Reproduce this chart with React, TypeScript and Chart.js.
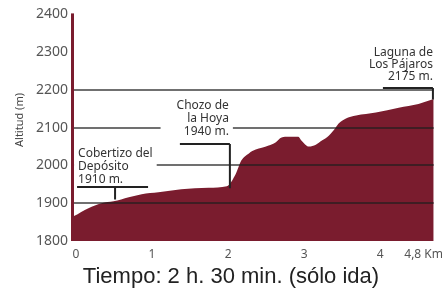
import { useEffect, useRef } from "react";
import { Chart, registerables } from "chart.js";

Chart.register(...registerables);

// ---- data ----
const distanceKm = [0, 0.19, 0.36, 0.52, 0.72, 0.89, 1.11, 1.41, 1.77, 2.01, 2.13, 2.2, 2.3, 2.39, 2.47, 2.56, 2.65, 2.73, 2.82, 2.95, 2.99, 3.09, 3.18, 3.26, 3.35, 3.44, 3.48, 3.57, 3.71, 3.97, 4.27, 4.53, 4.73];
const altitudeM = [1866, 1887, 1900, 1905, 1916, 1924, 1929, 1937, 1941, 1945, 1979, 2013, 2032, 2042, 2047, 2053, 2061, 2074, 2076, 2076, 2066, 2050, 2055, 2066, 2079, 2100, 2111, 2124, 2132, 2140, 2153, 2163, 2176];

const xTickValues = [0, 1, 2, 3, 4];
const xTickLabels = ["0", "1", "2", "3", "4"];
const xEndLabel = "4,8 Km";
const gridAltitudes = [1900, 2000, 2100, 2200];

const waypointNames = [["Cobertizo del", "Depósito"], ["Chozo de", "la Hoya"], ["Laguna de", "Los Pájaros"]];
const waypointKm = [0.54, 2.05, 4.72];
const waypointAlt = [1910, 1940, 2175];

const yAxisTitle = "Altitud (m)";
const bottomTitle = "Tiempo: 2 h. 30 min. (sólo ida)";

// ---- layout / style ----
const MAROON = "#7a1c2e";
const labelLayout = [
  { align: "left", textDx: -37, rise: 12, bx0: -38, bx1: 33, gap: 7, lh: 13, padL: 4, padR: 4 },
  { align: "right", textDx: -1, rise: 44, bx0: -50, bx1: 0, gap: 12, lh: 13, padL: 16, padR: 4 },
  { align: "right", textDx: 0, rise: 11, bx0: -50, bx1: 0, gap: 11, lh: 12, padL: 4, padR: 4 },
];

const overlayPlugin = {
  id: "overlay",
  afterDatasetsDraw(chart: any) {
    const { ctx, chartArea } = chart;
    const xs = chart.scales.x;
    const ys = chart.scales.y;
    ctx.save();

    // grid lines over the fill
    const xEnd = xs.getPixelForValue(distanceKm[distanceKm.length - 1]);
    ctx.strokeStyle = "rgba(30,30,30,0.85)";
    ctx.lineWidth = 1.5;
    gridAltitudes.forEach((a) => {
      const py = Math.round(ys.getPixelForValue(a));
      ctx.beginPath();
      ctx.moveTo(chartArea.left, py);
      ctx.lineTo(xEnd, py);
      ctx.stroke();
    });

    // waypoint annotations
    ctx.font = '12px "Noto Sans"';
    waypointNames.forEach((names, i) => {
      const L: any = labelLayout[i];
      const px = xs.getPixelForValue(waypointKm[i]);
      const py = ys.getPixelForValue(waypointAlt[i]);
      const lines = [...names, `${waypointAlt[i]} m.`];
      const by = Math.round(py - L.rise);
      const maxW = Math.max(...lines.map((t) => ctx.measureText(t).width));
      const tx = px + L.textDx;
      const left = L.align === "left" ? tx : tx - maxW;
      const lastY = by - L.gap;
      const firstY = lastY - (lines.length - 1) * L.lh;
      ctx.fillStyle = "#ffffff";
      ctx.fillRect(left - L.padL, firstY - 8, maxW + L.padL + L.padR, lastY - firstY + 15);

      ctx.strokeStyle = "#222";
      ctx.lineWidth = 2;
      ctx.beginPath();
      ctx.moveTo(px + L.bx0, by);
      ctx.lineTo(px + L.bx1, by);
      ctx.moveTo(px, by);
      ctx.lineTo(px, py);
      ctx.stroke();

      ctx.fillStyle = "#333";
      ctx.textAlign = L.align;
      ctx.textBaseline = "middle";
      lines.forEach((t, k) => ctx.fillText(t, tx, firstY + k * L.lh));
    });

    // y axis line
    ctx.strokeStyle = MAROON;
    ctx.lineWidth = 3;
    ctx.beginPath();
    ctx.moveTo(chartArea.left - 1.5, chartArea.top - 1);
    ctx.lineTo(chartArea.left - 1.5, chartArea.bottom);
    ctx.stroke();

    // x tick labels
    ctx.font = '12px "Noto Sans"';
    ctx.fillStyle = "#555";
    ctx.textBaseline = "middle";
    ctx.textAlign = "center";
    xTickValues.forEach((v, k) => {
      ctx.fillText(xTickLabels[k], xs.getPixelForValue(v) + 2, chartArea.bottom + 14);
    });
    ctx.textAlign = "right";
    ctx.fillText(xEndLabel, chart.width - 1, chartArea.bottom + 14);

    // bottom title
    ctx.font = '22px "Liberation Sans"';
    ctx.fillStyle = "#222";
    ctx.textAlign = "center";
    ctx.textBaseline = "alphabetic";
    ctx.fillText(bottomTitle, 231, chartArea.bottom + 42);

    // y axis title
    ctx.save();
    ctx.translate(20, 120);
    ctx.rotate(-Math.PI / 2);
    ctx.font = '11px "Noto Sans"';
    ctx.fillStyle = "#444";
    ctx.textAlign = "center";
    ctx.textBaseline = "middle";
    ctx.fillText(yAxisTitle, 0, 0);
    ctx.restore();

    ctx.restore();
  },
};

export default function App() {
  const canvasRef = useRef<HTMLCanvasElement | null>(null);

  useEffect(() => {
    document.body.style.margin = "0";
    const canvas = canvasRef.current;
    if (!canvas) return;
    const chart = new Chart(canvas, {
      type: "line",
      data: {
        datasets: [
          {
            data: distanceKm.map((d, i) => ({ x: d, y: altitudeM[i] })),
            fill: "start",
            backgroundColor: MAROON,
            borderWidth: 0,
            pointRadius: 0,
            cubicInterpolationMode: "monotone",
          },
        ],
      },
      options: {
        animation: false,
        responsive: false,
        events: [],
        layout: { padding: { top: 12, right: 5, bottom: 59, left: 0 } },
        plugins: { legend: { display: false }, tooltip: { enabled: false } },
        scales: {
          x: { type: "linear", min: 0, max: 4.8, display: false },
          y: {
            min: 1800,
            max: 2400,
            afterFit: (scale: any) => {
              scale.width = 74;
            },
            grid: { display: false, drawTicks: false },
            border: { display: false },
            ticks: {
              stepSize: 100,
              padding: 6,
              color: "#555",
              font: { family: "Noto Sans", size: 14 },
              callback: (v: any) => String(v),
            },
          },
        },
      },
      plugins: [overlayPlugin],
    });
    return () => chart.destroy();
  }, []);

  return (
    <div style={{ width: 444, height: 300, background: "#fff" }}>
      <canvas ref={canvasRef} width={444} height={300} />
    </div>
  );
}
